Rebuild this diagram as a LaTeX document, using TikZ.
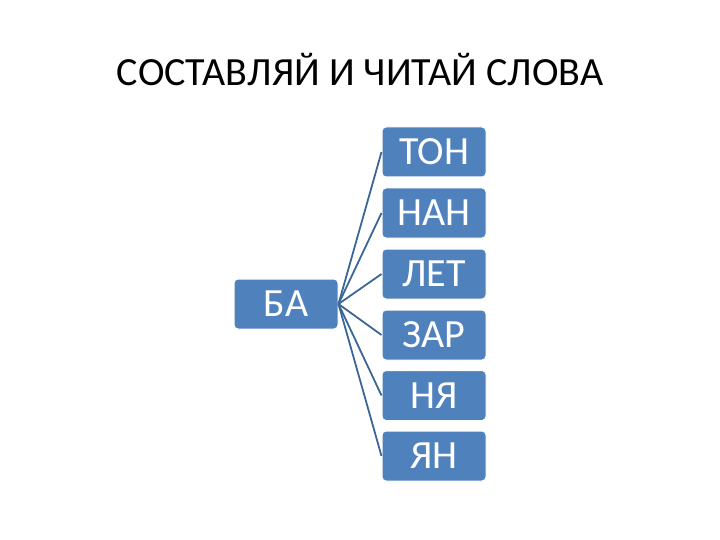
\documentclass[tikz,border=0pt]{standalone}
\usepackage{fontspec}
\setmainfont{Carlito}
\definecolor{boxblue}{HTML}{4F81BD}
\definecolor{linkblue}{HTML}{3B6797}
\begin{document}
\begin{tikzpicture}[x=1pt,y=-1pt,
  wbox/.style={draw=white,line width=1pt,fill=boxblue,rounded corners=4pt,text=white,font=\fontsize{40}{40}\selectfont,minimum width=104pt,minimum height=50pt,inner sep=0pt},
  link/.style={draw=linkblue,line width=1.8pt}]
\useasboundingbox (0,0) rectangle (720,540);
\node[font=\fontsize{40}{40}\selectfont] (title) at (360,70) {СОСТАВЛЯЙ И ЧИТАЙ СЛОВА};
\node[wbox] (ba) at (286,304) {БА};
\node[wbox] (t1) at (434,152) {ТОН};
\node[wbox] (t2) at (434,213) {НАН};
\node[wbox] (t3) at (434,274) {ЛЕТ};
\node[wbox] (t4) at (434,335) {ЗАР};
\node[wbox] (t5) at (434,395.5) {НЯ};
\node[wbox] (t6) at (434,456) {ЯН};
\foreach \n in {t1,t2,t3,t4,t5,t6} \draw[link] (ba.east) -- (\n.west);
\end{tikzpicture}
\end{document}
